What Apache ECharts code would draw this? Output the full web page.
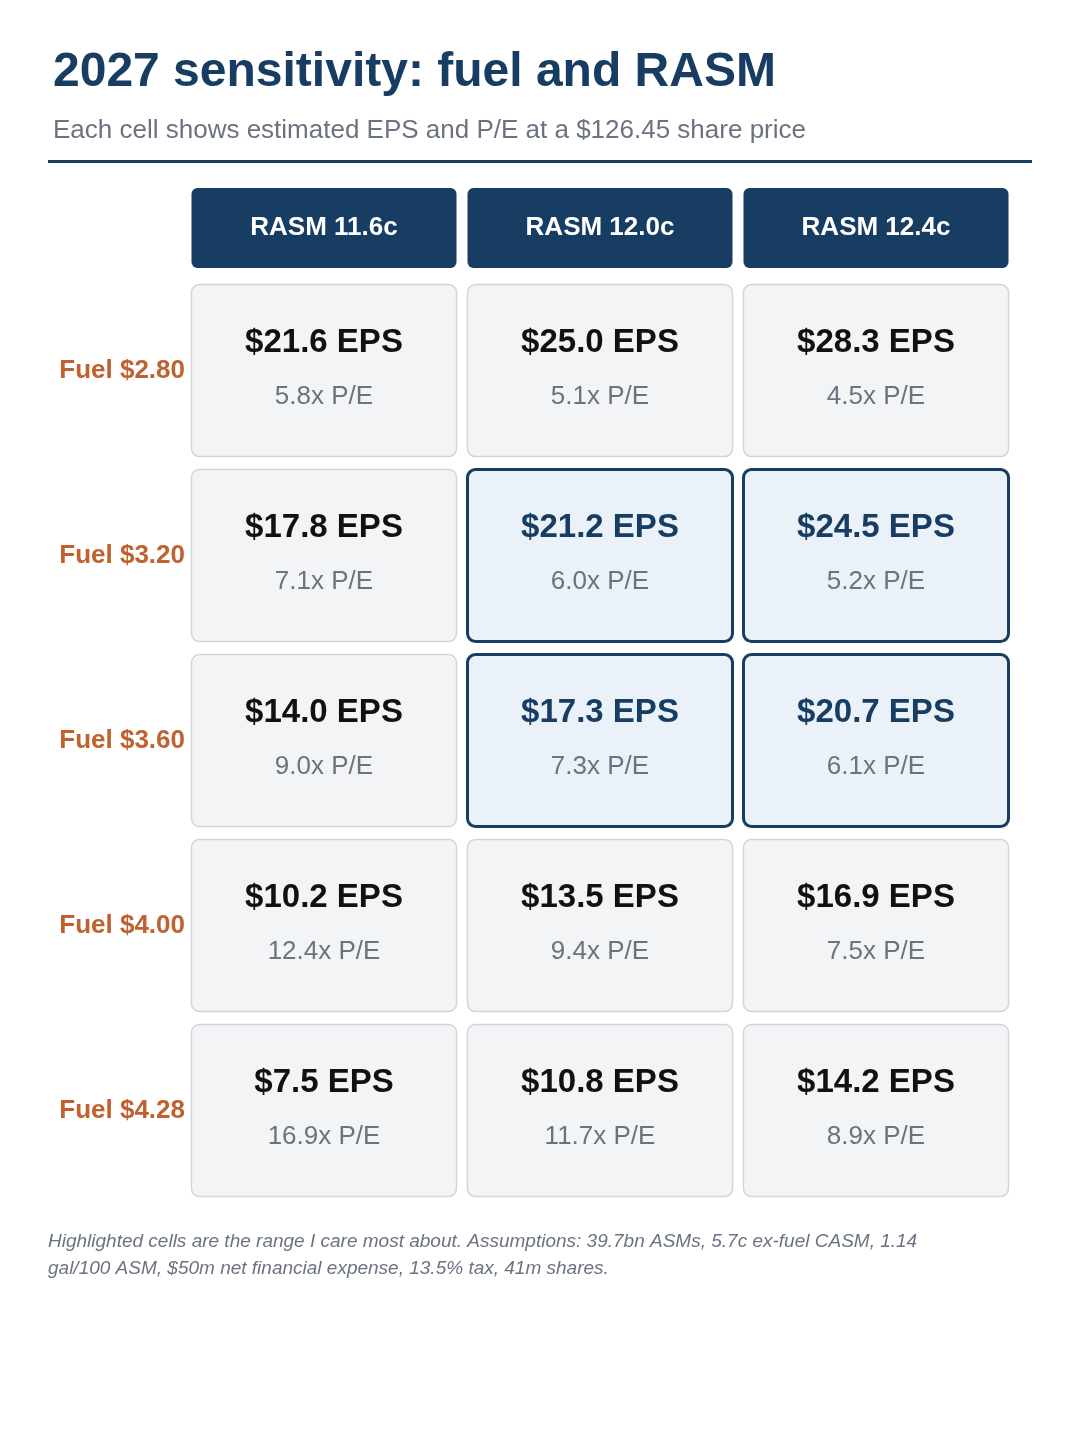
<!DOCTYPE html>
<html><head><meta charset="utf-8">
<script src="https://cdn.jsdelivr.net/npm/echarts@6/dist/echarts.min.js"></script>
<style>html,body{margin:0;padding:0;background:#fff}#c{width:1080px;height:1450px}</style>
</head><body><div id="c"></div>
<script>
const rasmLabels = ['RASM 11.6c','RASM 12.0c','RASM 12.4c'];
const fuelLabels = ['Fuel $2.80','Fuel $3.20','Fuel $3.60','Fuel $4.00','Fuel $4.28'];
const eps = [
  [21.6,25.0,28.3],
  [17.8,21.2,24.5],
  [14.0,17.3,20.7],
  [10.2,13.5,16.9],
  [7.5,10.8,14.2]
];
const pe = [
  [5.8,5.1,4.5],
  [7.1,6.0,5.2],
  [9.0,7.3,6.1],
  [12.4,9.4,7.5],
  [16.9,11.7,8.9]
];
const highlighted = [[1,1],[1,2],[2,1],[2,2]];

const NAVY='#173d63', FONT='Liberation Sans, Arial, sans-serif';
const cellData=[];
for(let r=0;r<fuelLabels.length;r++)for(let c=0;c<rasmLabels.length;c++){
  const hi=highlighted.some(h=>h[0]===r&&h[1]===c);
  cellData.push([c,r,eps[r][c],pe[r][c],hi?1:0]);
}
const chart=echarts.init(document.getElementById('c'),null,{renderer:'canvas'});
chart.setOption({
  animation:false,
  title:[{text:'2027 sensitivity: fuel and RASM',left:48,top:44,textStyle:{fontFamily:FONT,fontSize:48,fontWeight:'bold',color:NAVY}},
         {text:'Each cell shows estimated EPS and P/E at a $126.45 share price',left:48,top:113,textStyle:{fontFamily:FONT,fontSize:26,fontWeight:'normal',color:'#6b7280'}}],
  graphic:[
    {type:'rect',shape:{x:48,y:160,width:984,height:3},style:{fill:NAVY}},
    {type:'text',left:48,top:1228,style:{text:'Highlighted cells are the range I care most about. Assumptions: 39.7bn ASMs, 5.7c ex-fuel CASM, 1.14\ngal/100 ASM, $50m net financial expense, 13.5% tax, 41m shares.',font:'italic 19px '+FONT,fill:'#6b7280',lineHeight:27}}
  ],
  grid:[{left:186,top:278,width:828,height:925},{left:186,top:183,width:828,height:90}],
  xAxis:[{type:'category',gridIndex:0,data:rasmLabels,show:false},{type:'category',gridIndex:1,data:rasmLabels,show:false}],
  yAxis:[{type:'category',gridIndex:0,data:fuelLabels,inverse:true,axisLine:{show:false},axisTick:{show:false},splitLine:{show:false},
          axisLabel:{margin:1,fontFamily:FONT,fontSize:26,fontWeight:'bold',color:'#c0622f'}},
         {type:'category',gridIndex:1,data:['h'],show:false}],
  series:[
    {type:'custom',xAxisIndex:0,yAxisIndex:0,data:cellData,renderItem:(p,api)=>{
      const pt=api.coord([api.value(0),api.value(1)]);
      const hi=api.value(4)===1;
      const w=265,h=172;
      return {type:'group',children:[
        {type:'rect',shape:{x:pt[0]-w/2,y:pt[1]-h/2,width:w,height:h,r:8},
         style:{fill:hi?'#eaf1f8':'#f3f4f6',stroke:hi?NAVY:'#d1d5db',lineWidth:hi?3:1.5}},
        {type:'text',x:pt[0],y:pt[1]-28,style:{text:'$'+api.value(2).toFixed(1)+' EPS',font:'bold 33px '+FONT,fill:hi?NAVY:'#111111',align:'center',verticalAlign:'middle'}},
        {type:'text',x:pt[0],y:pt[1]+26,style:{text:api.value(3).toFixed(1)+'x P/E',font:'26px '+FONT,fill:'#6b7280',align:'center',verticalAlign:'middle'}}
      ]};
    }},
    {type:'custom',xAxisIndex:1,yAxisIndex:1,data:rasmLabels.map((l,i)=>[i,0,l]),renderItem:(p,api)=>{
      const pt=api.coord([api.value(0),0]);
      return {type:'group',children:[
        {type:'rect',shape:{x:pt[0]-132.5,y:188,width:265,height:80,r:6},style:{fill:NAVY}},
        {type:'text',x:pt[0],y:228,style:{text:rasmLabels[api.value(0)],font:'bold 26px '+FONT,fill:'#fff',align:'center',verticalAlign:'middle'}}
      ]};
    }}
  ]
});
</script></body></html>
